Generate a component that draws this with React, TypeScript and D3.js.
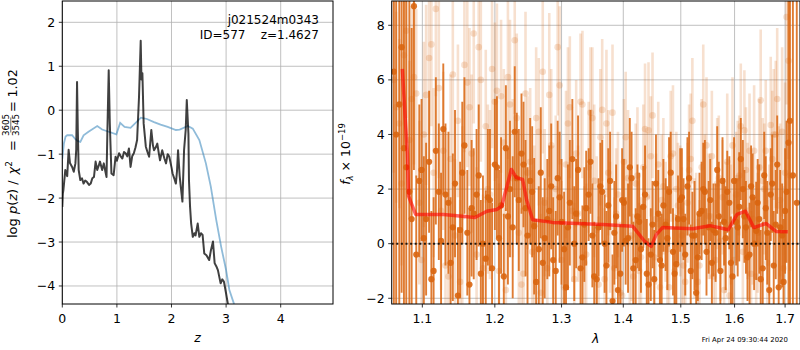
import React from 'react';
import * as d3 from 'd3';

// ---------- Left panel: p(z) ----------
const zBlack = [0.0, 0.01, 0.02, 0.055, 0.09, 0.116, 0.14, 0.18, 0.21, 0.24, 0.255, 0.27, 0.285, 0.3, 0.33, 0.36, 0.39, 0.42, 0.45, 0.49, 0.52, 0.55, 0.58, 0.61, 0.64, 0.67, 0.69, 0.73, 0.76, 0.79, 0.81, 0.825, 0.85, 0.87, 0.9, 0.94, 0.975, 1.0, 1.04, 1.07, 1.1, 1.13, 1.16, 1.19, 1.22, 1.25, 1.28, 1.31, 1.34, 1.37, 1.405, 1.436, 1.45, 1.467, 1.49, 1.53, 1.56, 1.59, 1.63, 1.66, 1.68, 1.71, 1.74, 1.77, 1.79, 1.83, 1.87, 1.9, 1.93, 1.96, 2.0, 2.02, 2.05, 2.08, 2.1, 2.12, 2.15, 2.17, 2.2, 2.23, 2.26, 2.28, 2.31, 2.32, 2.34, 2.36, 2.39, 2.42, 2.44, 2.48, 2.51, 2.54, 2.57, 2.6, 2.64, 2.69, 2.72, 2.76, 2.79, 2.82, 2.85, 2.9, 2.93, 2.96, 3.0, 3.03, 3.08];
const pBlack = [-2.2, -1.9, -1.82, -1.36, -1.5, -0.9, -1.2, -1.29, -1.4, -1.21, -0.9, 0.64, -0.5, -1.36, -1.59, -1.55, -1.67, -1.6, -1.63, -1.7, -1.67, -1.55, -1.52, -1.17, -1.36, -1.25, -1.17, -1.36, -1.21, -1.4, -1.52, -0.53, 0.91, -0.3, -1.44, -1.48, -1.06, -1.15, -0.98, -1.05, -1.1, -0.95, -0.98, -1.05, -0.87, -1.29, -1.05, -0.98, -0.85, -0.68, 0.3, 1.58, 0.7, 0.84, -0.3, -0.83, -0.95, -1.06, -0.45, -0.8, -0.91, -0.85, -0.76, -1.0, -1.14, -0.91, -1.1, -1.21, -1.0, -1.06, -1.3, -1.44, -1.55, -1.67, -1.4, -0.91, -1.5, -1.74, -2.08, -0.91, -0.45, 0.23, -0.53, -1.59, -2.2, -2.58, -2.88, -2.8, -2.85, -2.58, -2.88, -2.8, -2.84, -3.26, -3.3, -3.41, -3.2, -2.99, -3.48, -3.55, -3.64, -3.94, -3.85, -3.9, -4.17, -4.39, -4.7];

const zBlue = [0.0, 0.03, 0.06, 0.09, 0.18, 0.24, 0.28, 0.33, 0.39, 0.48, 0.64, 0.73, 0.85, 0.99, 1.06, 1.14, 1.25, 1.44, 1.55, 1.68, 1.8, 1.93, 2.08, 2.15, 2.3, 2.39, 2.51, 2.63, 2.72, 2.82, 2.91, 3.0, 3.06, 3.14, 3.2];
const pBlue = [-1.1, -0.75, -0.6, -0.57, -0.57, -0.66, -0.7, -0.72, -0.57, -0.49, -0.36, -0.44, -0.49, -0.55, -0.29, -0.38, -0.4, -0.17, -0.2, -0.27, -0.33, -0.38, -0.45, -0.44, -0.36, -0.42, -0.68, -1.21, -1.74, -2.5, -3.11, -3.64, -4.09, -4.39, -4.7];

const leftXTicks = [0, 1, 2, 3, 4];
const leftYTicks = [2, 1, 0, -1, -2, -3, -4];

// ---------- Right panel: spectrum ----------
const gridA = [1.063, 1.070, 1.076, 1.083, 1.089, 1.096, 1.102, 1.109, 1.115, 1.122, 1.128, 1.135, 1.141, 1.148, 1.154, 1.161, 1.167, 1.174, 1.180, 1.187, 1.193, 1.200, 1.206, 1.213, 1.219, 1.226, 1.232, 1.239, 1.245, 1.252, 1.258, 1.265, 1.271, 1.278, 1.284, 1.291, 1.297, 1.304, 1.310, 1.317, 1.323, 1.330, 1.336, 1.343, 1.349, 1.356, 1.362, 1.369, 1.375, 1.382, 1.388, 1.395, 1.401, 1.408, 1.414, 1.421, 1.427, 1.434, 1.440, 1.447, 1.453, 1.460, 1.466, 1.473, 1.479, 1.486, 1.492, 1.499, 1.505, 1.512, 1.518, 1.525, 1.531, 1.538, 1.544, 1.551, 1.557, 1.564, 1.570, 1.577, 1.583, 1.590, 1.596, 1.603, 1.609, 1.616, 1.622, 1.629, 1.635, 1.642, 1.648, 1.655, 1.661, 1.668, 1.674, 1.681, 1.687, 1.694, 1.700, 1.707, 1.716, 1.724];
const gridB = [1.066, 1.073, 1.079, 1.086, 1.092, 1.099, 1.105, 1.112, 1.118, 1.125, 1.131, 1.138, 1.144, 1.151, 1.157, 1.164, 1.170, 1.177, 1.183, 1.190, 1.196, 1.203, 1.209, 1.216, 1.222, 1.229, 1.235, 1.242, 1.248, 1.255, 1.261, 1.268, 1.274, 1.281, 1.287, 1.294, 1.300, 1.307, 1.313, 1.320, 1.326, 1.333, 1.339, 1.346, 1.352, 1.359, 1.365, 1.372, 1.378, 1.385, 1.391, 1.398, 1.404, 1.411, 1.417, 1.424, 1.430, 1.437, 1.443, 1.450, 1.456, 1.463, 1.469, 1.476, 1.482, 1.489, 1.495, 1.502, 1.508, 1.515, 1.521, 1.528, 1.534, 1.541, 1.547, 1.554, 1.560, 1.567, 1.573, 1.580, 1.586, 1.593, 1.599, 1.606, 1.612, 1.619, 1.625, 1.632, 1.638, 1.645, 1.651, 1.658, 1.664, 1.671, 1.677, 1.684, 1.690, 1.697, 1.703, 1.710];

// dark (strong) spectrum, first set on gridA
const darkFluxA = [6.3, 5.1, 3.5, 1.9, 8.7, 2.3, 0.2, 3.0, -1.0, 1.9, 4.2, 1.5, 0.6, -1.9, 2.6, 0.4, 1.3, 1.8, -1.1, -0.55, 1.6, 2.9, 0.2, -1.2, 1.0, 0.6, 2.4, 3.3, 1.3, 2.3, 0.64, -0.2, -0.7, 0.9, 2.1, -1.0, 1.7, -0.2, 0.6, 3.1, 1.1, -0.9, 0.7, 1.8, 0.3, -1.3, 2.1, 0.0, 1.4, -2.1, 1.0, -1.1, 1.5, 0.2, 2.4, -0.6, 0.8, 1.35, -1.1, -0.4, -1.3, 1.1, -0.8, 0.7, 1.9, -0.3, -0.75, 1.6, 0.9, 2.1, -1.0, 0.3, -0.5, 1.2, 1.9, 0.6, -0.7, 0.4, 1.0, 2.3, 0.2, 1.5, -1.2, 0.8, 1.35, 2.0, 0.6, -0.4, 1.7, 0.47, 0.9, -0.9, 1.3, -1.7, 2.2, 0.7, -1.6, 0.3, 1.2, 3.7, 2.5, 1.5];
const darkErrA = [9, 9, 9, 8, 6, 2.8, 3.0, 2.6, 2.7, 2.5, 2.4, 2.6, 2.7, 2.5, 2.6, 2.3, 2.5, 2.4, 2.7, 2.5, 2.6, 2.4, 2.5, 2.3, 2.5, 2.6, 2.4, 2.2, 2.5, 2.3, 2.5, 2.3, 2.4, 2.2, 2.3, 2.2, 2.4, 2.1, 2.3, 2.2, 2.0, 1.8, 2.1, 1.7, 1.9, 2.0, 1.6, 1.8, 2.1, 1.7, 1.9, 1.8, 1.6, 2.0, 1.7, 1.9, 1.8, 1.5, 2.0, 1.7, 1.8, 1.6, 1.9, 1.7, 2.0, 1.6, 1.8, 1.9, 1.5, 1.8, 1.7, 2.0, 1.6, 1.8, 1.9, 1.7, 1.5, 1.8, 2.0, 1.6, 1.9, 1.7, 1.8, 1.6, 2.0, 1.8, 1.7, 1.9, 1.6, 1.8, 2.0, 1.7, 1.9, 2.1, 1.8, 2.0, 2.2, 1.9, 2.3, 9, 10, 10];
// dark spectrum, second set on gridB
const darkFluxB = [4.0, 7.2, 2.8, 0.9, -0.4, 2.7, 0.9, -1.3, 3.4, 0.1, 1.8, -0.7, 2.2, 0.5, 3.6, -1.5, 1.1, 2.5, 0.0, 1.7, -0.9, 2.8, 1.4, 3.5, 2.0, 4.1, 1.6, 2.9, 0.3, 1.9, -1.4, 2.6, 0.2, 1.2, -0.6, 2.4, 0.8, -1.6, 1.5, 0.0, 2.7, -0.5, 1.3, 3.0, -1.2, 0.6, 1.9, -0.8, 2.3, 0.4, -1.7, 1.6, 0.1, 2.8, -0.9, 1.0, -0.2, 1.8, -1.5, 0.7, 2.2, -0.6, 1.4, 0.2, 2.6, -1.1, 0.9, 1.7, -0.4, 2.4, 0.3, -1.8, 1.1, 2.0, -0.3, 1.6, 0.5, 2.7, -1.0, 0.8, 1.9, -0.7, 2.3, 0.6, 3.1, 1.0, -0.5, 2.1, 0.0, 1.5, -1.3, 2.5, 0.4, 1.8, -0.8, 2.9, 0.6, -1.4, 1.9, 4.5];
const darkErrB = [9, 9, 8, 7, 2.9, 2.6, 2.8, 2.5, 2.7, 2.5, 2.6, 2.4, 2.7, 2.5, 2.5, 2.8, 2.4, 2.6, 2.5, 2.5, 2.4, 2.6, 2.5, 2.3, 2.5, 2.4, 2.6, 2.3, 2.5, 2.4, 2.3, 2.4, 2.2, 2.4, 2.3, 2.1, 2.3, 2.2, 2.3, 2.1, 2.0, 1.9, 2.1, 1.9, 2.0, 1.8, 1.9, 2.0, 1.8, 1.9, 1.7, 1.9, 1.6, 1.8, 1.7, 1.9, 1.6, 1.8, 1.7, 1.6, 1.8, 1.6, 1.7, 1.9, 1.5, 1.7, 1.6, 1.8, 1.5, 1.7, 1.6, 1.8, 1.5, 1.7, 1.6, 1.5, 1.7, 1.6, 1.8, 1.6, 1.5, 1.7, 1.6, 1.8, 1.5, 1.7, 1.6, 1.5, 1.7, 1.6, 1.8, 1.6, 1.9, 1.7, 2.0, 1.8, 2.1, 2.3, 2.6, 9];

// light (faint) spectrum, first set on gridB, second set on gridA
const lightFluxA = [5.0, 2.2, 7.8, 5.3, 5.5, -0.6, 5.45, 7.3, 8.6, 1.2, -0.8, 3.1, 0.3, -1.4, 6.55, 5.0, 7.7, 7.2, -0.9, 2.0, 6.4, 5.6, 5.4, -1.7, 5.1, 7.45, 0.4, -1.1, 2.6, -0.3, 4.6, -1.8, 1.5, 5.45, 0.8, 7.2, -0.6, 2.9, 5.0, -1.3, 1.1, 5.1, -0.4, 4.8, 2.3, -1.5, 4.9, 4.4, 0.6, -0.9, 1.8, -1.9, 3.9, 0.2, -1.2, 2.5, -0.5, 4.2, 4.15, 4.7, 0.9, -1.6, 2.1, -0.2, 3.2, -1.0, 1.4, 0.3, -1.4, 2.7, 4.5, 0.5, -0.8, 5.1, 3.6, 1.0, -1.2, 2.2, 0.1, -1.7, 3.0, 0.7, -0.6, 2.4, 4.3, 4.15, 1.2, -1.1, 3.4, 0.4, 5.25, 2.0, -0.7, 4.35, 4.0, 5.3, 1.6, -0.9, 8.3, 2.5];
const lightErrA = [3.5, 3.0, 3.2, 3.4, 3.1, 2.8, 3.3, 3.0, 3.2, 2.9, 2.7, 3.1, 2.8, 3.0, 3.2, 2.9, 3.3, 3.0, 2.7, 3.1, 2.9, 3.2, 2.8, 3.0, 3.1, 2.7, 2.9, 3.2, 2.8, 3.0, 2.6, 2.9, 2.7, 3.0, 2.8, 2.5, 2.9, 2.7, 2.6, 2.8, 2.5, 2.7, 2.6, 2.4, 2.8, 2.5, 2.6, 2.7, 2.4, 2.6, 2.3, 2.5, 2.4, 2.6, 2.3, 2.5, 2.2, 2.4, 2.5, 2.3, 2.4, 2.2, 2.5, 2.3, 2.4, 2.1, 2.3, 2.5, 2.2, 2.4, 2.3, 2.1, 2.4, 2.2, 2.5, 2.3, 2.1, 2.4, 2.2, 2.3, 2.5, 2.2, 2.4, 2.1, 2.3, 2.2, 2.5, 2.3, 2.4, 2.2, 2.6, 2.4, 2.3, 2.5, 2.4, 2.6, 2.8, 3.0, 3.2, 3.5];
const lightFluxB = [6.0, 4.4, 6.9, 3.8, 6.1, 1.5, 4.0, 6.8, 2.6, 5.7, 3.4, -1.2, 6.2, 4.5, 1.0, 5.9, 3.3, -0.4, 6.0, 4.3, 1.8, 5.2, -1.0, 3.7, 6.1, 2.4, 4.6, -1.5, 5.5, 3.0, 0.7, 4.1, 6.3, -0.9, 3.6, 2.0, 5.8, -1.6, 4.4, 1.2, 3.3, 5.2, -0.7, 2.8, 4.6, 0.5, 3.9, -1.3, 2.6, 4.8, 1.1, -1.8, 3.0, 2.4, 0.3, 2.2, -1.0, 2.8, 1.7, 3.2, -0.5, 2.9, 1.6, 0.8, -1.6, 3.3, 2.0, 1.2, -0.8, 1.5, 3.1, 0.2, -1.4, 2.8, 1.9, 1.0, 3.2, -0.6, 2.4, 1.7, 0.6, -1.9, 3.6, 1.8, 2.5, -0.3, 2.7, 3.4, 0.9, -1.2, 2.8, 2.3, 3.4, 0.5, 3.1, 4.0, 1.4, 4.1, 2.6, 6.7];
const lightErrB = [3.4, 3.1, 3.3, 2.9, 3.2, 3.0, 3.4, 2.8, 3.1, 3.3, 2.9, 3.2, 3.0, 2.8, 3.3, 3.1, 2.9, 3.2, 3.0, 2.8, 3.1, 2.9, 3.2, 2.7, 3.0, 2.9, 3.1, 2.8, 3.0, 2.7, 2.9, 2.7, 3.0, 2.6, 2.8, 2.7, 2.9, 2.5, 2.8, 2.6, 2.7, 2.5, 2.8, 2.4, 2.6, 2.7, 2.5, 2.6, 2.3, 2.5, 2.4, 2.6, 2.3, 2.5, 2.4, 2.2, 2.5, 2.3, 2.4, 2.2, 2.5, 2.3, 2.4, 2.2, 2.3, 2.5, 2.1, 2.4, 2.3, 2.2, 2.4, 2.2, 2.3, 2.5, 2.1, 2.3, 2.4, 2.2, 2.3, 2.1, 2.4, 2.2, 2.5, 2.3, 2.2, 2.4, 2.3, 2.1, 2.4, 2.2, 2.5, 2.3, 2.6, 2.4, 2.5, 2.7, 2.9, 3.1, 3.3, 3.6];

const modelLam = [1.0739, 1.0804, 1.082, 1.0912, 1.1285, 1.1718, 1.1885, 1.2027, 1.2099, 1.224, 1.2313, 1.2407, 1.2467, 1.2557, 1.2862, 1.3657, 1.4157, 1.4361, 1.4477, 1.4564, 1.4675, 1.5217, 1.5535, 1.5881, 1.6047, 1.6213, 1.6373, 1.6615, 1.6816, 1.7055];
const modelFlux = [6.4, 3.3, 1.74, 1.07, 1.07, 0.96, 1.19, 1.25, 1.37, 2.72, 2.42, 2.35, 1.6, 0.88, 0.78, 0.7, 0.64, 0.09, -0.1, 0.33, 0.59, 0.55, 0.66, 0.51, 1.07, 1.19, 0.59, 0.74, 0.45, 0.44];

const rightXTicks = [1.1, 1.2, 1.3, 1.4, 1.5, 1.6, 1.7];
const rightYTicks = [-2, 0, 2, 4, 6, 8];

const FONT = 'DejaVu Sans';
const ORANGE = '#d9650f';

type Pt = { lam: number; f: number; e: number };
const zipSet = (lam: number[], f: number[], e: number[]): Pt[] => f.map((v, i) => ({ lam: lam[i], f: v, e: e[i] }));

export default function App() {
  const L = { x0: 62.3, x1: 333, y0: 1, y1: 304 };
  const R = { x0: 391.7, x1: 800, y0: 1, y1: 304 };
  const lx = d3.scaleLinear().domain([0, 4.958]).range([L.x0, L.x1]);
  const ly = d3.scaleLinear().domain([-4.41, 2.485]).range([L.y1, L.y0]);
  const rx = d3.scaleLog().domain([1.0603, 1.7307]).range([R.x0, R.x1]);
  const ry = d3.scaleLinear().domain([-2.21, 8.89]).range([R.y1, R.y0]);

  const blackLine = d3.line<number>().x((d, i) => lx(zBlack[i])).y((d) => ly(d))(pBlack) || '';
  const blueLine = d3.line<number>().x((d, i) => lx(zBlue[i])).y((d) => ly(d))(pBlue) || '';
  const modelLine = d3.line<number>().x((d, i) => rx(modelLam[i])).y((d) => ry(d))(modelFlux) || '';

  const light = [...zipSet(gridB, lightFluxA, lightErrA), ...zipSet(gridA, lightFluxB, lightErrB)];
  const dark = [...zipSet(gridA, darkFluxA, darkErrA), ...zipSet(gridB, darkFluxB, darkErrB)];

  const tickFs = 12.5;
  const minus = (t: number) => (t < 0 ? '\u2212' + Math.abs(t) : String(t));

  return (
    <svg width={800} height={350} style={{ position: 'absolute', left: 0, top: 0, background: '#fff' }} fontFamily={FONT}>
      <defs>
        <clipPath id="clipL"><rect x={L.x0} y={L.y0} width={L.x1 - L.x0} height={L.y1 - L.y0} /></clipPath>
        <clipPath id="clipR"><rect x={R.x0} y={R.y0} width={R.x1 - R.x0} height={R.y1 - R.y0} /></clipPath>
      </defs>
      <rect width={800} height={350} fill="#fff" />

      {/* ----- Left panel ----- */}
      <g>
        {leftXTicks.map((t) => (
          <line key={'lgx' + t} x1={lx(t)} x2={lx(t)} y1={L.y0} y2={L.y1} stroke="#b0b0b0" strokeWidth={0.8} />
        ))}
        {leftYTicks.map((t) => (
          <line key={'lgy' + t} x1={L.x0} x2={L.x1} y1={ly(t)} y2={ly(t)} stroke="#b0b0b0" strokeWidth={0.8} />
        ))}
        <g clipPath="url(#clipL)">
          <path d={blueLine} fill="none" stroke="#1f77b4" strokeOpacity={0.5} strokeWidth={1.8} />
          <path d={blackLine} fill="none" stroke="#000" strokeOpacity={0.75} strokeWidth={2} strokeLinejoin="round" />
        </g>
        <rect x={L.x0} y={L.y0} width={L.x1 - L.x0} height={L.y1 - L.y0} fill="none" stroke="#000" strokeWidth={1} />
        {leftXTicks.map((t) => (
          <g key={'lxt' + t}>
            <line x1={lx(t)} x2={lx(t)} y1={L.y1} y2={L.y1 + 3.5} stroke="#000" strokeWidth={0.8} />
            <text x={lx(t)} y={323} fontSize={tickFs} textAnchor="middle">{t}</text>
          </g>
        ))}
        {leftYTicks.map((t) => (
          <g key={'lyt' + t}>
            <line x1={L.x0 - 3.5} x2={L.x0} y1={ly(t)} y2={ly(t)} stroke="#000" strokeWidth={0.8} />
            <text x={L.x0 - 7} y={ly(t) + 4.5} fontSize={tickFs} textAnchor="end">{minus(t)}</text>
          </g>
        ))}
        <text x={319} y={24} fontSize={12} textAnchor="end">j021524m0343</text>
        <text x={319} y={39} fontSize={12} textAnchor="end" xmlSpace="preserve">ID=577    z=1.4627</text>
        <text x={197.6} y={342} fontSize={tickFs} textAnchor="middle" fontStyle="italic">z</text>
        <g transform="translate(12,152.5) rotate(-90)">
          <text x={-85.5} y={5} fontSize={13} xmlSpace="preserve">log <tspan fontStyle="italic">p</tspan>(<tspan fontStyle="italic">z</tspan>) /</text>
          <text x={-22} y={5} fontSize={13}><tspan fontStyle="italic">χ</tspan><tspan fontSize={9} dy={-5.5}>2</tspan></text>
          <text x={7} y={5} fontSize={13} textAnchor="middle">=</text>
          <text x={27.5} y={-3} fontSize={8.7} textAnchor="middle">3605</text>
          <line x1={20} x2={35} y1={-1.2} y2={-1.2} stroke="#000" strokeWidth={0.6} />
          <text x={27.5} y={6.5} fontSize={8.7} textAnchor="middle">3545</text>
          <text x={46} y={5} fontSize={13} textAnchor="middle">=</text>
          <text x={55} y={5} fontSize={12.7}>1.02</text>
        </g>
      </g>

      {/* ----- Right panel ----- */}
      <g>
        {rightXTicks.map((t) => (
          <line key={'rgx' + t} x1={rx(t)} x2={rx(t)} y1={R.y0} y2={R.y1} stroke="#b0b0b0" strokeWidth={0.8} />
        ))}
        {rightYTicks.map((t) => (
          <line key={'rgy' + t} x1={R.x0} x2={R.x1} y1={ry(t)} y2={ry(t)} stroke="#b0b0b0" strokeWidth={0.8} />
        ))}
        <g clipPath="url(#clipR)">
          {light.map((p, i) => (
            <line key={'le' + i} x1={rx(p.lam)} x2={rx(p.lam)} y1={ry(p.f - p.e)} y2={ry(p.f + p.e)} stroke={ORANGE} strokeOpacity={0.2} strokeWidth={2.6} />
          ))}
          {light.map((p, i) => (
            <circle key={'lp' + i} cx={rx(p.lam)} cy={ry(p.f)} r={3.3} fill={ORANGE} fillOpacity={0.2} />
          ))}
          {dark.map((p, i) => (
            <line key={'de' + i} x1={rx(p.lam)} x2={rx(p.lam)} y1={ry(p.f - p.e)} y2={ry(p.f + p.e)} stroke={ORANGE} strokeOpacity={0.85} strokeWidth={1.9} />
          ))}
          {dark.map((p, i) => (
            <circle key={'dp' + i} cx={rx(p.lam)} cy={ry(p.f)} r={3.1} fill={ORANGE} fillOpacity={0.9} />
          ))}
          <path d={modelLine} fill="none" stroke="#ff0000" strokeOpacity={0.6} strokeWidth={3.5} strokeLinejoin="round" />
          <line x1={R.x0} x2={R.x1} y1={ry(0)} y2={ry(0)} stroke="#000" strokeWidth={2} strokeDasharray="2,2.6" strokeOpacity={0.85} />
        </g>
        <rect x={R.x0} y={R.y0} width={R.x1 - R.x0} height={R.y1 - R.y0} fill="none" stroke="#000" strokeWidth={1} />
        {rightXTicks.map((t) => (
          <g key={'rxt' + t}>
            <line x1={rx(t)} x2={rx(t)} y1={R.y1} y2={R.y1 + 3.5} stroke="#000" strokeWidth={0.8} />
            <text x={rx(t)} y={323} fontSize={tickFs} textAnchor="middle">{t.toFixed(1)}</text>
          </g>
        ))}
        {rightYTicks.map((t) => (
          <g key={'ryt' + t}>
            <line x1={R.x0 - 3.5} x2={R.x0} y1={ry(t)} y2={ry(t)} stroke="#000" strokeWidth={0.8} />
            <text x={R.x0 - 7} y={ry(t) + 4.5} fontSize={tickFs} textAnchor="end">{minus(t)}</text>
          </g>
        ))}
        <text x={595.8} y={343} fontSize={tickFs} textAnchor="middle" fontStyle="italic">λ</text>
        <g transform="translate(350,154) rotate(-90)">
          <text x={0} y={0} fontSize={12.5} textAnchor="middle" xmlSpace="preserve"><tspan fontStyle="italic">f</tspan><tspan fontSize={8.5} fontStyle="italic" dy={3}>λ</tspan><tspan dy={-3}> × 10</tspan><tspan fontSize={8.5} dy={-5}>{'\u221219'}</tspan></text>
        </g>
        <text x={701.7} y={342} fontSize={6.9}>Fri Apr 24 09:30:44 2020</text>
      </g>
    </svg>
  );
}
